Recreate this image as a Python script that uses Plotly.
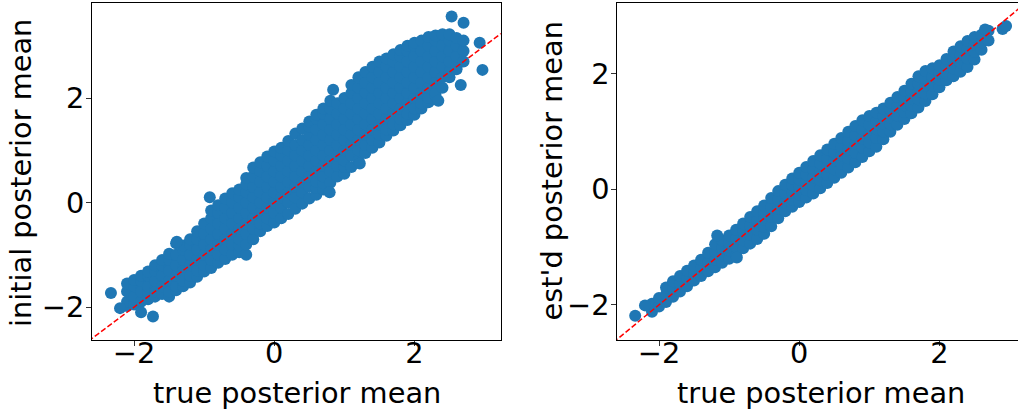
import plotly.graph_objects as go

# ---------------- data ----------------
# Left panel: true posterior mean (x) vs initial posterior mean (y), by column
left_x_cols = [-2.1, -2.0, -1.9, -1.8, -1.7, -1.6, -1.5, -1.4, -1.3, -1.2, -1.1, -1.0,
               -0.9, -0.8, -0.7, -0.6, -0.5, -0.4, -0.3, -0.2, -0.1, 0.0, 0.1, 0.2,
               0.3, 0.4, 0.5, 0.6, 0.7, 0.8, 0.9, 1.0, 1.1, 1.2, 1.3, 1.4, 1.5, 1.6,
               1.7, 1.8, 1.9, 2.0, 2.1, 2.2, 2.3, 2.4, 2.5, 2.6, 2.7]
left_y_cols = [
    [-1.98, -1.9, -1.7, -1.55],
    [-1.95, -1.8, -1.6, -1.48],
    [-1.9, -1.7, -1.5, -1.4],
    [-1.85, -1.72, -1.6, -1.4, -1.32],
    [-1.8, -1.7, -1.5, -1.3, -1.2],
    [-1.75, -1.6, -1.4, -1.2, -1.1],
    [-1.8, -1.7, -1.5, -1.3, -1.1, -0.98],
    [-1.68, -1.6, -1.4, -1.2, -1.0, -0.78],
    [-1.6, -1.5, -1.3, -1.1, -0.9, -0.82],
    [-1.53, -1.4, -1.2, -1.0, -0.8, -0.7],
    [-1.42, -1.3, -1.1, -0.9, -0.7, -0.55],
    [-1.32, -1.2, -1.0, -0.8, -0.6, -0.4],
    [-1.25, -1.1, -0.9, -0.7, -0.5, -0.3, -0.15],
    [-1.15, -1.0, -0.8, -0.6, -0.4, -0.2, -0.05],
    [-1.08, -0.9, -0.7, -0.5, -0.3, -0.1, 0.08],
    [-1.0, -0.8, -0.6, -0.4, -0.2, 0.0, 0.18],
    [-0.95, -0.82, -0.7, -0.5, -0.3, -0.1, 0.1, 0.25],
    [-1.0, -0.8, -0.6, -0.4, -0.2, 0.0, 0.2, 0.35, 0.47],
    [-0.7, -0.5, -0.3, -0.1, 0.1, 0.3, 0.5, 0.67],
    [-0.55, -0.4, -0.2, 0.0, 0.2, 0.4, 0.6, 0.77],
    [-0.45, -0.3, -0.1, 0.1, 0.3, 0.5, 0.7, 0.88],
    [-0.38, -0.2, 0.0, 0.2, 0.4, 0.6, 0.8, 0.98],
    [-0.3, -0.1, 0.1, 0.3, 0.5, 0.7, 0.9, 1.05],
    [-0.22, 0.0, 0.2, 0.4, 0.6, 0.8, 1.0, 1.18],
    [-0.12, 0.1, 0.3, 0.5, 0.7, 0.9, 1.1, 1.32],
    [-0.02, 0.2, 0.4, 0.6, 0.8, 1.0, 1.2, 1.42],
    [0.08, 0.3, 0.5, 0.7, 0.9, 1.1, 1.3, 1.45, 1.55],
    [0.15, 0.28, 0.4, 0.6, 0.8, 1.0, 1.2, 1.4, 1.6, 1.68],
    [0.25, 0.37, 0.5, 0.7, 0.9, 1.1, 1.3, 1.5, 1.7, 1.8],
    [0.38, 0.6, 0.8, 1.0, 1.2, 1.4, 1.6, 1.8, 1.95],
    [0.5, 0.7, 0.9, 1.1, 1.3, 1.5, 1.7, 1.9],
    [0.55, 0.68, 0.8, 1.0, 1.2, 1.4, 1.6, 1.8, 2.0],
    [0.68, 0.9, 1.1, 1.3, 1.5, 1.7, 1.9, 2.1, 2.25],
    [0.8, 1.0, 1.2, 1.4, 1.6, 1.8, 2.0, 2.2, 2.4],
    [0.95, 1.1, 1.3, 1.5, 1.7, 1.9, 2.1, 2.3, 2.5],
    [1.05, 1.2, 1.4, 1.6, 1.8, 2.0, 2.2, 2.4, 2.6],
    [1.15, 1.3, 1.5, 1.7, 1.9, 2.1, 2.3, 2.5, 2.7],
    [1.28, 1.4, 1.6, 1.8, 2.0, 2.2, 2.4, 2.6, 2.76],
    [1.38, 1.5, 1.7, 1.9, 2.1, 2.3, 2.5, 2.7, 2.84],
    [1.48, 1.6, 1.8, 2.0, 2.2, 2.4, 2.6, 2.8, 2.92],
    [1.58, 1.7, 1.9, 2.1, 2.3, 2.5, 2.7, 2.9, 3.0],
    [1.68, 1.8, 2.0, 2.2, 2.4, 2.6, 2.8, 3.0, 3.06],
    [1.8, 1.9, 2.1, 2.3, 2.5, 2.7, 2.9, 3.1],
    [1.92, 2.0, 2.2, 2.4, 2.6, 2.8, 3.0, 3.17],
    [2.05, 2.1, 2.3, 2.5, 2.7, 2.9, 3.1, 3.2],
    [2.2, 2.4, 2.6, 2.8, 3.0, 3.22],
    [2.4, 2.5, 2.7, 2.9, 3.1, 3.22],
    [2.55, 2.6, 2.8, 3.0, 3.15],
    [2.7, 2.9, 3.1],
]
left_out_x = [-2.33, -2.2, -1.9, -1.73, -1.39, -0.92, 0.79, 0.84, 1.22, 2.34, 2.66, 2.93, 2.97, 2.53, 2.7]
left_out_y = [-1.73, -2.02, -2.1, -2.18, -0.75, 0.1, 0.2, 2.16, 0.75, 1.95, 2.25, 3.06, 2.54, 3.56, 3.44]

# Right panel: true posterior mean (x) vs est'd posterior mean (y), by column
right_x_cols = [-2.1, -2.0, -1.9, -1.8, -1.7, -1.6, -1.5, -1.4, -1.3, -1.2, -1.1, -1.0,
                -0.9, -0.8, -0.7, -0.6, -0.5, -0.4, -0.3, -0.2, -0.1, 0.0, 0.1, 0.2,
                0.3, 0.4, 0.5, 0.6, 0.7, 0.8, 0.9, 1.0, 1.1, 1.2, 1.3, 1.4, 1.5, 1.6,
                1.7, 1.8, 1.9, 2.0, 2.1, 2.2, 2.3, 2.4, 2.5, 2.6, 2.7]
right_y_cols = [
    [-2.12, -1.98],
    [-2.03, -1.88],
    [-1.95, -1.82, -1.7],
    [-1.86, -1.72, -1.59],
    [-1.77, -1.63, -1.5],
    [-1.68, -1.54, -1.41],
    [-1.58, -1.45, -1.32],
    [-1.5, -1.36, -1.22],
    [-1.42, -1.27, -1.1],
    [-1.35, -1.22, -1.08, -0.95],
    [-1.27, -1.14, -1.01, -0.88],
    [-1.2, -1.06, -0.93, -0.8],
    [-1.15, -1.0, -0.85, -0.7],
    [-1.02, -0.88, -0.73, -0.59],
    [-0.94, -0.79, -0.63, -0.48],
    [-0.86, -0.7, -0.54, -0.38],
    [-0.77, -0.65, -0.52, -0.4, -0.28],
    [-0.64, -0.48, -0.32, -0.15],
    [-0.5, -0.34, -0.18, -0.03],
    [-0.38, -0.23, -0.07, 0.08],
    [-0.3, -0.18, -0.06, 0.07, 0.19],
    [-0.22, -0.09, 0.04, 0.17, 0.29],
    [-0.14, -0.01, 0.12, 0.26, 0.39],
    [-0.07, 0.07, 0.21, 0.35, 0.49],
    [0.02, 0.16, 0.3, 0.45, 0.59],
    [0.11, 0.25, 0.4, 0.54, 0.69],
    [0.2, 0.35, 0.5, 0.64, 0.79],
    [0.29, 0.44, 0.59, 0.74, 0.89],
    [0.38, 0.54, 0.69, 0.85, 1.0],
    [0.47, 0.63, 0.79, 0.94, 1.1],
    [0.56, 0.72, 0.88, 1.04, 1.2],
    [0.66, 0.81, 0.96, 1.12, 1.27],
    [0.74, 0.89, 1.04, 1.18, 1.33],
    [0.87, 1.0, 1.14, 1.27, 1.4],
    [1.0, 1.13, 1.25, 1.38, 1.5],
    [1.12, 1.28, 1.44, 1.6],
    [1.22, 1.34, 1.46, 1.59, 1.71],
    [1.32, 1.45, 1.58, 1.7, 1.83],
    [1.42, 1.56, 1.69, 1.83, 1.96],
    [1.53, 1.66, 1.79, 1.92, 2.05],
    [1.65, 1.8, 1.95, 2.1],
    [1.77, 1.9, 2.02, 2.15],
    [1.89, 2.01, 2.14, 2.26],
    [1.96, 2.1, 2.25, 2.39],
    [2.04, 2.19, 2.33, 2.48],
    [2.12, 2.27, 2.42, 2.57],
    [2.25, 2.38, 2.51, 2.64],
    [2.42, 2.55, 2.68],
    [2.58, 2.75],
]
right_out_x = [-2.34, -2.2, -1.17, -0.89, 2.65, 2.9, 2.95]
right_out_y = [-2.19, -2.01, -0.8, -1.18, 2.77, 2.78, 2.83]

# reference line y = x
diag = [-5, 5]

tick_vals = [-2, 0, 2]
x_title = "true posterior mean"
left_y_title = "initial posterior mean"
right_y_title = "est'd posterior mean"

# ---------------- build flat series ----------------
def flatten(xcols, ycols, ox, oy):
    xs, ys = [], []
    for x, col in zip(xcols, ycols):
        for y in col:
            xs.append(x)
            ys.append(y)
    return xs + list(ox), ys + list(oy)

lx, ly = flatten(left_x_cols, left_y_cols, left_out_x, left_out_y)
rx, ry = flatten(right_x_cols, right_y_cols, right_out_x, right_out_y)

BLUE = "#1f77b4"
FONT = "DejaVu Sans"
FS = 28.8
W, H = 1018, 413


def px_x(p):
    return p / W


def px_y(p):
    return 1 - p / H


fig = go.Figure()
fig.add_trace(go.Scatter(x=lx, y=ly, mode="markers", xaxis="x", yaxis="y",
                         marker=dict(color=BLUE, size=12, line=dict(width=0)),
                         hoverinfo="skip"))
fig.add_trace(go.Scatter(x=diag, y=diag, mode="lines", xaxis="x", yaxis="y",
                         line=dict(color="red", width=1.5, dash="5.5px,2.4px"),
                         hoverinfo="skip"))
fig.add_trace(go.Scatter(x=rx, y=ry, mode="markers", xaxis="x2", yaxis="y2",
                         marker=dict(color=BLUE, size=12, line=dict(width=0)),
                         hoverinfo="skip"))
fig.add_trace(go.Scatter(x=diag, y=diag, mode="lines", xaxis="x2", yaxis="y2",
                         line=dict(color="red", width=1.5, dash="5.5px,2.4px"),
                         hoverinfo="skip"))

ax_common = dict(showgrid=False, zeroline=False, showline=True, linecolor="black",
                 linewidth=1, ticks="outside", ticklen=5, tickwidth=1,
                 tickcolor="#333333", tickvals=tick_vals,
                 tickfont=dict(family=FONT, size=FS, color="black"))
XSTAND = -18
YSTAND = -4

fig.update_layout(
    width=W, height=H, margin=dict(l=0, r=0, t=0, b=0, autoexpand=False),
    paper_bgcolor="white", plot_bgcolor="white", showlegend=False,
    xaxis=dict(domain=[px_x(92), px_x(500.7)], range=[-2.6, 3.23], anchor="y",
               mirror=True, ticklabelstandoff=XSTAND, **ax_common),
    yaxis=dict(domain=[px_y(340), px_y(3)], range=[-2.63, 3.82],
               anchor="x", mirror=True, ticklabelstandoff=YSTAND, **ax_common),
    xaxis2=dict(domain=[px_x(617.3), 1.0], range=[-2.595, 3.12], anchor="y2",
                mirror=True, ticklabelstandoff=XSTAND, **ax_common),
    yaxis2=dict(domain=[px_y(340), px_y(3)], range=[-2.61, 3.23],
                anchor="x2", mirror=False, ticklabelstandoff=YSTAND, **ax_common),
)

ann_font = dict(family=FONT, size=FS, color="black")
fig.add_annotation(text=x_title, xref="paper", yref="paper", x=px_x(296.7), y=px_y(393),
                   xanchor="center", yanchor="middle", showarrow=False, font=ann_font)
fig.add_annotation(text=x_title, xref="paper", yref="paper", x=px_x(820.7), y=px_y(393),
                   xanchor="center", yanchor="middle", showarrow=False, font=ann_font)
fig.add_annotation(text=left_y_title, xref="paper", yref="paper", x=px_x(21), y=px_y(173),
                   xanchor="center", yanchor="middle", showarrow=False, textangle=-90,
                   font=ann_font)
fig.add_annotation(text=right_y_title, xref="paper", yref="paper", x=px_x(551), y=px_y(171.5),
                   xanchor="center", yanchor="middle", showarrow=False, textangle=-90,
                   font=ann_font)

# remove the browser's default 8px body margin so the figure sits at (0, 0)
fig.write_html("out.html", config={"displayModeBar": False},
               post_script="document.body.style.margin='0px';")
